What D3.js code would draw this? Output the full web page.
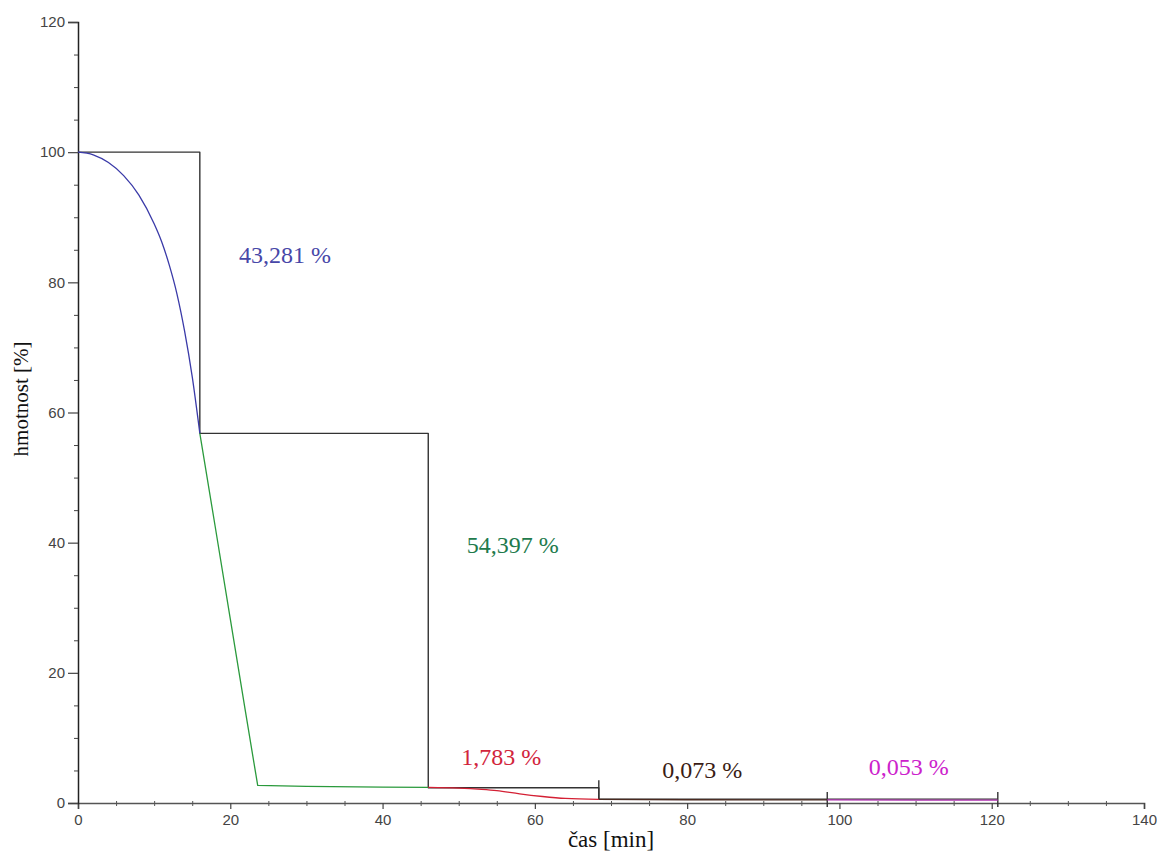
<!DOCTYPE html>
<html><head><meta charset="utf-8">
<script src="https://cdn.jsdelivr.net/npm/d3@7"></script>
<style>body{margin:0;background:#fff}svg{display:block}</style>
</head><body>
<svg id="c" width="1157" height="852"></svg>
<script>
// ---- data ----
const xTicks = [0,20,40,60,80,100,120,140];
const yTicks = [0,20,40,60,80,100,120];
const blueX = [0,2,4,6,8,10,11,12,13,14,15,16];
const blueY = [100,99.6,98.4,96.4,93.4,89.0,86.2,82.6,78.2,72.5,65.5,56.8];
const greenX = [16,18,20,22,23.6,30,40,46];
const greenY = [56.8,42.6,28.3,14.0,2.7,2.55,2.45,2.4];
const redX = [46,50,53,55,58,61,64,68.4];
const redY = [2.4,2.3,2.1,1.9,1.4,1.0,0.7,0.55];
const brownX = [68.4,80,98.4];
const brownY = [0.55,0.5,0.48];
const magX = [98.4,110,120.8];
const magY = [0.48,0.45,0.43];
const stepX = [0,16,16,46,46,68.4,68.4];
const stepY = [100,100,56.8,56.8,2.35,2.35,0.55];
const tailX = [68.4,120.8];
const tailY = [0.6,0.6];
const markX = [68.4,98.4,120.8];
const markTop = [3.5,1.7,1.7];
const markBot = [0.55,-0.6,-0.6];
const labels = ["43,281 %","54,397 %","1,783 %","0,073 %","0,053 %"];
const labelX = [27.2,57.1,55.6,82.0,109.1];
const labelY = [82.9,38.4,5.84,3.84,4.3];
const labelColors = ["#4747a8","#217a4c","#d2243c","#3a1c14","#cc22cc"];

// ---- layout ----
const svg = d3.select("#c");
const x = d3.scaleLinear().domain([0,140]).range([78,1144]);
const y = d3.scaleLinear().domain([0,120]).range([803,22]);

// axes
const tickFont = "'Liberation Sans', Arial, sans-serif";
const gx = svg.append("g").attr("transform","translate(0,803)")
  .call(d3.axisBottom(x).tickValues(xTicks).tickSize(6).tickPadding(5).tickFormat(d3.format("d")));
gx.select(".domain").attr("stroke","#555").attr("stroke-width",1.6);
gx.selectAll(".tick line").attr("stroke","#444").attr("stroke-width",1.2);
gx.selectAll("text").attr("font-family",tickFont).attr("font-size",15).attr("fill","#444");
const gxm = svg.append("g").attr("transform","translate(0,803)")
  .call(d3.axisBottom(x).tickValues(d3.range(0,141,5).filter(v=>v%20)).tickSize(3).tickFormat(""));
gxm.select(".domain").remove();
gxm.selectAll(".tick line").attr("stroke","#555").attr("y1",-2).attr("y2",3);

const gy = svg.append("g").attr("transform","translate(78,0)")
  .call(d3.axisLeft(y).tickValues(yTicks).tickSize(10).tickPadding(3).tickFormat(d3.format("d")));
gy.select(".domain").attr("stroke","#222").attr("stroke-width",1.5);
gy.selectAll(".tick line").attr("stroke","#444").attr("stroke-width",1.2);
gy.selectAll("text").attr("font-family",tickFont).attr("font-size",15).attr("fill","#444");
const gym = svg.append("g").attr("transform","translate(78,0)")
  .call(d3.axisLeft(y).tickValues(d3.range(0,121,5).filter(v=>v%20)).tickSize(4).tickFormat(""));
gym.select(".domain").remove();
gym.selectAll(".tick line").attr("stroke","#444");

// lines
const line = (xs,ys,curve)=>d3.line().curve(curve||d3.curveLinear).x((d,i)=>x(xs[i])).y((d,i)=>y(ys[i]))(xs);
const draw = (xs,ys,color,w,curve)=>svg.append("path").attr("d",line(xs,ys,curve)).attr("fill","none")
  .attr("stroke",color).attr("stroke-width",w).attr("stroke-linejoin","round");

draw(stepX,stepY,"#333",1.4);
draw(tailX,tailY,"#333",1.4);
markX.forEach((mx,i)=>{
  svg.append("line").attr("x1",x(mx)).attr("x2",x(mx)).attr("y1",y(markTop[i])).attr("y2",y(markBot[i]))
    .attr("stroke","#333").attr("stroke-width",1.4);
});
draw(blueX,blueY,"#3a3aa8",1.3,d3.curveMonotoneX);
draw(greenX,greenY,"#2a9a3c",1.3);
draw(redX,redY,"#d42034",1.3,d3.curveMonotoneX);
draw(brownX,brownY,"#4a2a20",1.3);
draw(magX,magY,"#b030b0",1.3);

// labels
const serif = "'Liberation Serif','Times New Roman',serif";
labels.forEach((t,i)=>{
  svg.append("text").attr("x",x(labelX[i])).attr("y",y(labelY[i])).attr("text-anchor","middle")
    .attr("font-family",serif).attr("font-size",24).attr("fill",labelColors[i]).text(t);
});

svg.append("text").attr("transform","translate(28,399) rotate(-90)").attr("text-anchor","middle")
  .attr("font-family",serif).attr("font-size",21).attr("fill","#111").text("hmotnost [%]");
svg.append("text").attr("x",611).attr("y",847).attr("text-anchor","middle")
  .attr("font-family",serif).attr("font-size",23).attr("fill","#111").text("čas [min]");
</script>
</body></html>
